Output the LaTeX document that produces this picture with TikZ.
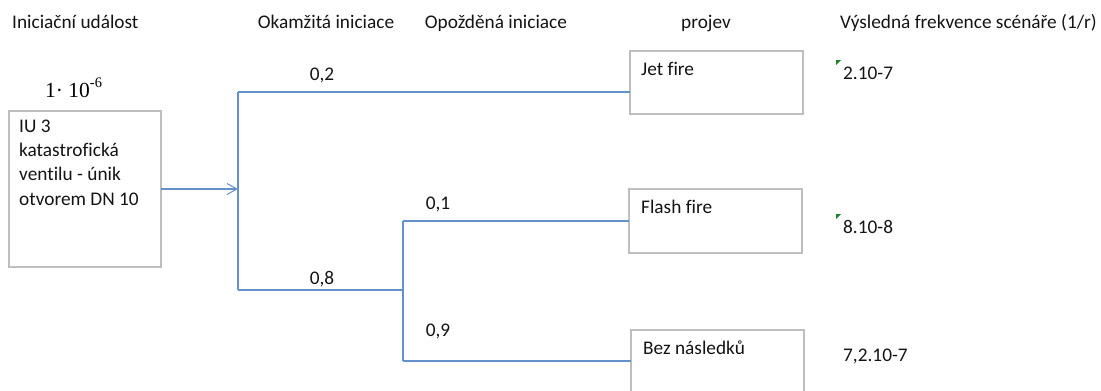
\documentclass[tikz,border=0pt]{standalone}
\usepackage{fontspec}
\setmainfont{Carlito}[Ligatures=NoCommon]
\newfontfamily\timesf{Liberation Serif}
\usetikzlibrary{arrows.meta}
\definecolor{lineblue}{RGB}{98,145,205}
\definecolor{boxgray}{RGB}{190,190,190}
\definecolor{flaggreen}{RGB}{30,130,40}
\definecolor{txt}{RGB}{20,20,20}
\begin{document}
\begin{tikzpicture}[x=1pt,y=-1pt,
  lbl/.style={anchor=base west,inner sep=0pt,text=txt,font=\fontsize{19.3}{22}\selectfont},
  clbl/.style={anchor=base,inner sep=0pt,text=txt,font=\fontsize{19.3}{22}\selectfont},
  evbox/.style={draw=boxgray,line width=1.2pt,fill=white},
  conn/.style={draw=lineblue,line width=1.2pt},
  flag/.style={fill=flaggreen,draw=none}]
\useasboundingbox (0,0) rectangle (1101,391);
% headers
\node[lbl] (h1) at (12,28) {Iniciační událost};
\node[clbl] (h2) at (326,28) {Okamžitá iniciace};
\node[clbl] (h3) at (496,28) {Opožděná iniciace};
\node[clbl] (h4) at (706,28) {projev};
\node[lbl] (h5) at (840,28) {Výsledná frekvence scénáře (1/r)};
% initial frequency
\node[anchor=base west,inner sep=0pt,text=black,font=\timesf\fontsize{21.5}{24}\selectfont] (f0) at (45,97) {1·\ 10\raisebox{0.42em}{\fontsize{14.5}{16}\selectfont -6}};
% initiating event box
\draw[evbox] (9,111) rectangle (161,267);
\coordinate (ieR) at (161,189);
\node[lbl] (ie1) at (19,132) {IU 3};
\node[lbl] (ie2) at (19,156.3) {katastrofická};
\node[lbl] (ie3) at (19,180.6) {ventilu - únik};
\node[lbl] (ie4) at (19,205) {otvorem DN 10};
% outcome boxes
\draw[evbox] (630,51) rectangle (803,114);
\draw[evbox] (629,189) rectangle (802,253);
\draw[evbox] (631,330) rectangle (804,396);
\coordinate (jetL) at (630,92);
\coordinate (flashL) at (629,221);
\coordinate (bezL) at (631,361);
\node[lbl] (jet) at (641,75) {Jet fire};
\node[lbl] (flash) at (641,213) {Flash fire};
\node[lbl] (bez) at (643,354) {Bez následků};
% junctions
\coordinate (a) at (238,189);
\coordinate (aTop) at (238,92);
\coordinate (aBot) at (238,290);
\coordinate (bTop) at (403,221);
\coordinate (bMid) at (403,290);
\coordinate (bBot) at (403,361);
% connectors
\draw[conn,-{Straight Barb[length=10pt,width=11pt,line width=1pt]}] (ieR) -- (a);
\draw[conn] (aTop) -- (aBot);
\draw[conn] (aTop) -- (jetL);
\draw[conn] (aBot) -- (bMid);
\draw[conn] (bTop) -- (bBot);
\draw[conn] (bTop) -- (flashL);
\draw[conn] (bBot) -- (bezL);
% probabilities
\node[clbl] (p1) at (322,80) {0,2};
\node[clbl] (p2) at (322,284) {0,8};
\node[clbl] (p3) at (438,209) {0,1};
\node[clbl] (p4) at (438,336) {0,9};
% results
\node[lbl] (r1) at (843,79) {2.10-7};
\node[lbl] (r2) at (843,233) {8.10-8};
\node[lbl] (r3) at (843,361) {7,2.10-7};
\fill[flag] (836,60) -- (841,60) -- (836,65) -- cycle;
\fill[flag] (836,214) -- (841,214) -- (836,219) -- cycle;
\end{tikzpicture}
\end{document}
